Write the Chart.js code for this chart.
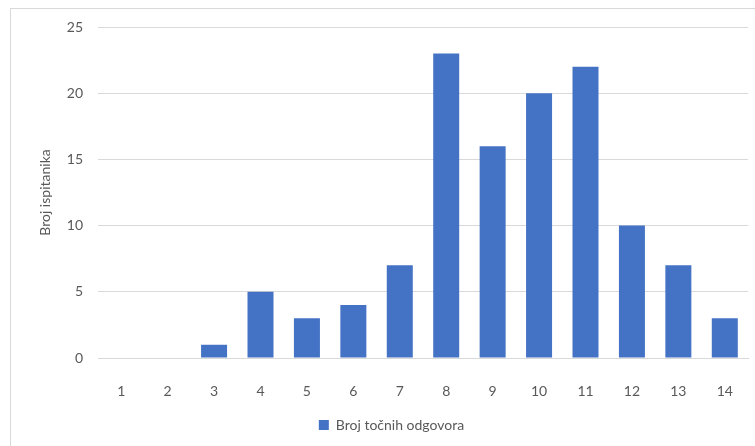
<!DOCTYPE html>
<html>
<head>
<meta charset="utf-8">
<script src="https://cdn.jsdelivr.net/npm/chart.js@4"></script>
<style>
  html, body { margin: 0; padding: 0; background: #fff; overflow: hidden; }
  #wrap { position: relative; width: 755px; height: 446px; }
  #frame { position: absolute; left: 10px; top: 8px; width: 800px; height: 500px; border: 1.5px solid #d9d9d9; box-sizing: border-box; }
  canvas { position: absolute; left: 0; top: 0; }
</style>
</head>
<body>
<div id="wrap">
  <div id="frame"></div>
  <canvas id="chart" width="755" height="446"></canvas>
</div>
<script>
// === DATA ===
const categories = ['1', '2', '3', '4', '5', '6', '7', '8', '9', '10', '11', '12', '13', '14'];
const counts = [0, 0, 1, 5, 3, 4, 7, 23, 16, 20, 22, 10, 7, 3];
const seriesName = 'Broj točnih odgovora';
const yTitle = 'Broj ispitanika';

document.addEventListener('DOMContentLoaded', () => {
  const el = document.getElementById('chart');
  new Chart(el.getContext('2d'), {
    type: 'bar',
    data: {
      labels: categories,
      datasets: [{
        label: seriesName,
        data: counts,
        backgroundColor: '#4472C4',
        borderWidth: 0,
        barPercentage: 1,
        categoryPercentage: 0.56
      }]
    },
    options: {
      responsive: false,
      animation: false,
      layout: { padding: { left: 35, right: 7, top: 27, bottom: 4 } },
      plugins: {
        tooltip: { enabled: false },
        legend: {
          position: 'bottom',
          labels: {
            boxWidth: 10, boxHeight: 10, padding: 10,
            color: '#595959',
            font: { family: 'Lato', size: 14 }
          }
        }
      },
      scales: {
        x: {
          grid: { display: false },
          border: { color: '#d9d9d9' },
          ticks: { color: '#595959', padding: 17, font: { family: 'Lato', size: 14 } },
          afterFit: (s) => { s.height = 50; }
        },
        y: {
          min: 0, max: 25,
          ticks: { stepSize: 5, color: '#595959', padding: 15, font: { family: 'Lato', size: 14 } },
          grid: { color: '#d9d9d9', drawTicks: false },
          border: { display: false },
          title: { display: true, text: yTitle, color: '#595959', padding: 2, font: { family: 'Lato', size: 14 } },
          afterFit: (s) => { s.width = 63; }
        }
      }
    }
  });
});
</script>
</body>
</html>
